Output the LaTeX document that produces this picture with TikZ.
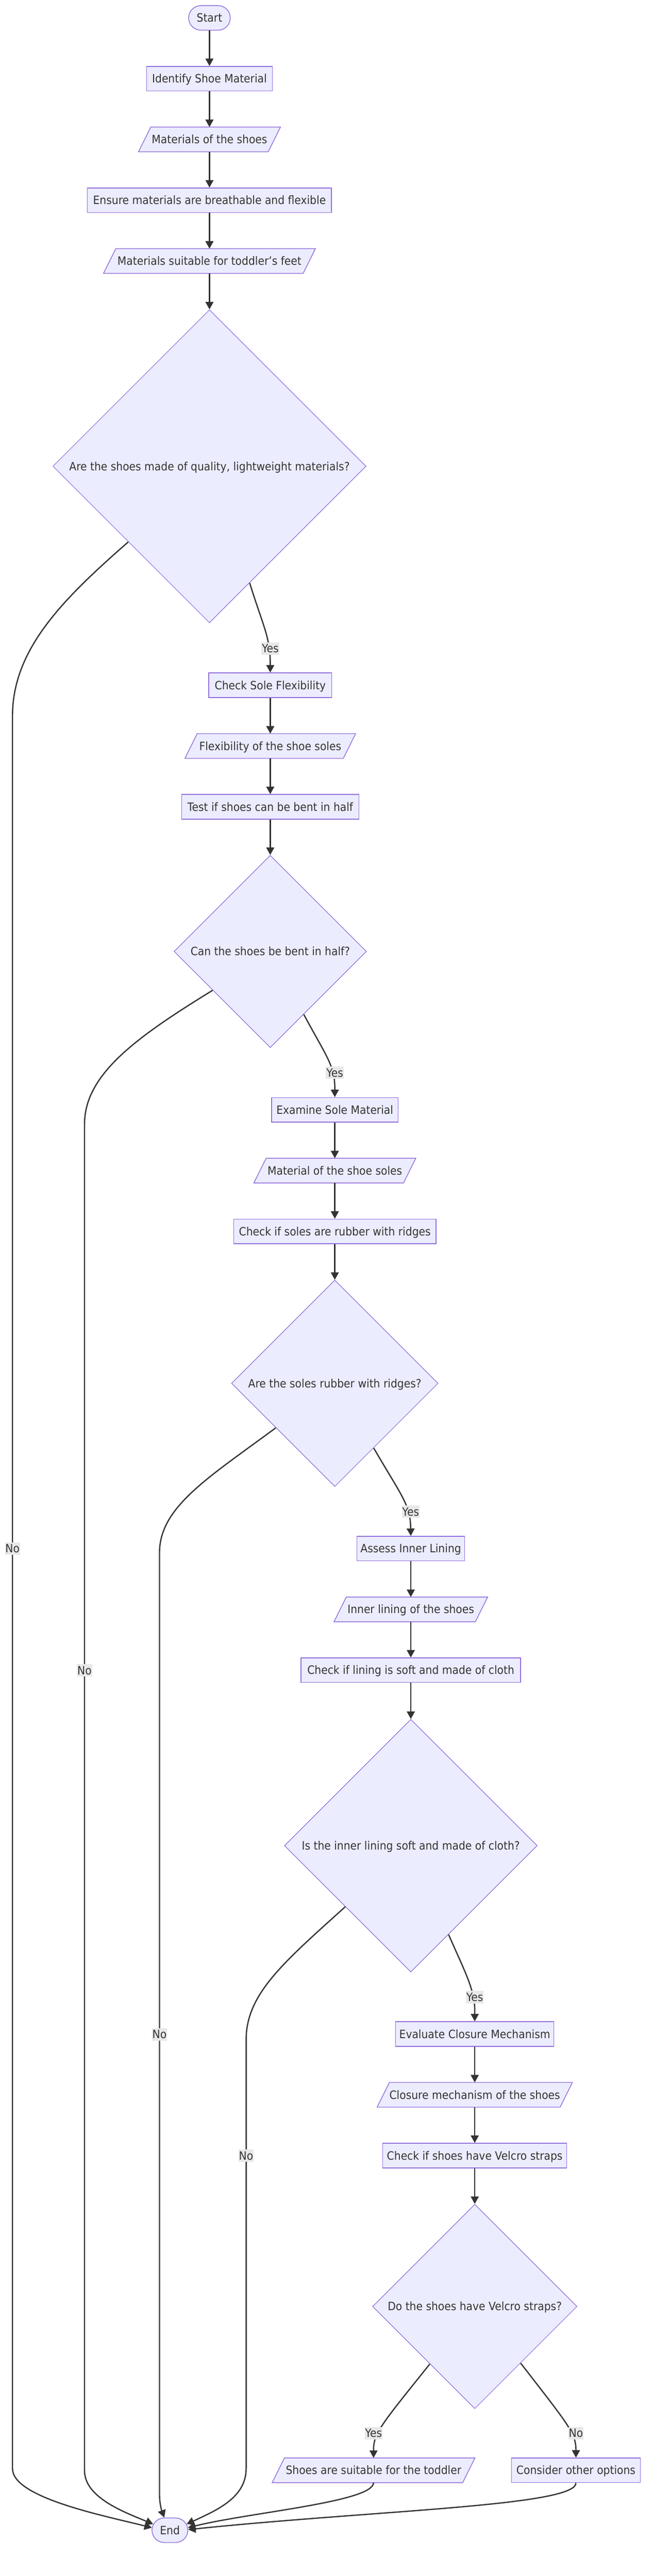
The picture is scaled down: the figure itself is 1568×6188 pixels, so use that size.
\documentclass[tikz,border=0pt]{standalone}
\usepackage{fontspec}
\setmainfont{DejaVu Sans}[FakeStretch=0.91]
\usetikzlibrary{arrows.meta,shapes.geometric,shapes.misc,backgrounds,calc}
\definecolor{nfill}{HTML}{ECECFF}
\definecolor{nstroke}{HTML}{9370DB}
\definecolor{lc}{HTML}{333333}
\definecolor{lblbg}{HTML}{E8E8E8}
\newcommand{\nfont}{\fontsize{27.6}{33}\selectfont}
\begin{document}
\begin{tikzpicture}[x=1pt,y=-1pt,
  font=\nfont,
  every node/.style={text=lc},
  every label/.style={text=lc, inner sep=0pt, text height=20pt, text depth=0pt},
  base/.style={minimum height=59pt, inner sep=0pt, text height=20pt, text depth=0pt},
  proc/.style={base, rectangle, draw=nstroke, fill=nfill, line width=1.8pt},
  term/.style={base, rounded rectangle, draw=nstroke, fill=nfill, line width=1.8pt},
  iobox/.style={base, rectangle, draw=none},
  dia/.style={diamond, draw=nstroke, fill=nfill, line width=1.5pt, inner sep=0pt},
  parashape/.style={draw=nstroke, fill=nfill, line width=1.8pt},
  conn/.style={draw=lc, line width=3pt, -{Triangle[length=18pt,width=19pt]}},
  lbl/.style={fill=lblbg, inner xsep=1pt, inner ysep=5pt, text height=20pt, text depth=0pt}
]
\useasboundingbox (0,0) rectangle (1568,6188);

% ---- nodes ----
\node[term, minimum width=100pt] (start) at (503,43) {\makebox[0pt]{Start}};
\node[proc, minimum width=302pt] (a1) at (503,189) {Identify Shoe Material};
\node[iobox, minimum width=311pt] (p1) at (503,335) {Materials of the shoes};
\node[proc, minimum width=586pt] (a2) at (503,481) {Ensure materials are breathable and flexible};
\node[iobox, minimum width=479pt] (p2) at (503,627) {Materials suitable for toddler's feet};
\node[dia, minimum width=752pt, minimum height=752pt,
      label=center:{Are the shoes made of quality, lightweight materials?}] (d1) at (503,1120) {};
\node[proc, minimum width=295pt] (b1) at (649,1646) {Check Sole Flexibility};
\node[iobox, minimum width=380pt] (p3) at (649,1792) {Flexibility of the shoe soles};
\node[proc, minimum width=426pt] (b2) at (649,1938) {Test if shoes can be bent in half};
\node[dia, minimum width=462pt, minimum height=462pt,
      label=center:{Can the shoes be bent in half?}] (d2) at (649,2285.5) {};
\node[proc, minimum width=304pt] (c1) at (804,2666) {Examine Sole Material};
\node[iobox, minimum width=359pt] (p4) at (804,2812) {Material of the shoe soles};
\node[proc, minimum width=486pt] (c2) at (804,2958) {Check if soles are rubber with ridges};
\node[dia, minimum width=496pt, minimum height=496pt,
      label=center:{Are the soles rubber with ridges?}] (d3) at (804,3323) {};
\node[proc, minimum width=259pt] (e1) at (986.5,3720) {Assess Inner Lining};
\node[iobox, minimum width=339pt] (p5) at (986.5,3866) {Inner lining of the shoes};
\node[proc, minimum width=527pt] (e2) at (986.5,4012) {Check if lining is soft and made of cloth};
\node[dia, minimum width=607pt, minimum height=607pt,
      label=center:{Is the inner lining soft and made of cloth?}] (d4) at (986.5,4433.5) {};
\node[proc, minimum width=380pt] (f1) at (1140,4886) {Evaluate Closure Mechanism};
\node[iobox, minimum width=439pt] (p6) at (1140,5032) {Closure mechanism of the shoes};
\node[proc, minimum width=442pt] (f2) at (1140,5178) {Check if shoes have Velcro straps};
\node[dia, minimum width=491pt, minimum height=491pt,
      label=center:{Do the shoes have Velcro straps?}] (d5) at (1140,5540.5) {};
\node[iobox, minimum width=457pt] (g1) at (897,5934) {Shoes are suitable for the toddler};
\node[proc, minimum width=310pt] (g2) at (1383,5934) {Consider other options};
\node[term, minimum width=86pt] (fin) at (408,6078) {\makebox[0pt]{End}};

% ---- parallelogram outlines ----
\begin{scope}[on background layer]
\foreach \n in {p1,p2,p3,p4,p5,p6,g1}{
  \draw[parashape] ($(\n.north west)+(14.75,0)$) -- ($(\n.north east)+(14.75,0)$)
     -- ($(\n.south east)+(-14.75,0)$) -- ($(\n.south west)+(-14.75,0)$) -- cycle;
}
\end{scope}

% ---- straight connectors ----
\draw[conn] (start) -- (a1);
\draw[conn] (a1) -- (p1);
\draw[conn] (p1) -- (a2);
\draw[conn] (a2) -- (p2);
\draw[conn] (p2) -- (d1);
\draw[conn] (b1) -- (p3);
\draw[conn] (p3) -- (b2);
\draw[conn] (b2) -- (d2);
\draw[conn] (c1) -- (p4);
\draw[conn] (p4) -- (c2);
\draw[conn] (c2) -- (d3);
\draw[conn] (e1) -- (p5);
\draw[conn] (p5) -- (e2);
\draw[conn] (e2) -- (d4);
\draw[conn] (f1) -- (p6);
\draw[conn] (p6) -- (f2);
\draw[conn] (f2) -- (d5);

% ---- Yes branches ----
\draw[conn] (d1.-71.4) .. controls (632,1505) and (649,1530) .. (649,1595) -- (b1.north);
\node[lbl] (y1) at (649,1558) {Yes};
\draw[conn] (d2.-62) .. controls (785,2540) and (804,2560) .. (804,2615) -- (c1.north);
\node[lbl] (y2) at (804,2577) {Yes};
\draw[conn] (d3.-59.2) .. controls (962,3590) and (986,3615) .. (986,3670) -- (e1.north);
\node[lbl] (y3) at (986,3631) {Yes};
\draw[conn] (d4.-67.35) .. controls (1118,4740) and (1140,4780) .. (1140,4830) -- (f1.north);
\node[lbl] (y4) at (1140,4797.6) {Yes};
\draw[conn] (d5.-128.35) .. controls (915,5825) and (897,5845) .. (897,5885) -- (g1.north);
\node[lbl] (y5) at (897,5845) {Yes};
\draw[conn] (d5.-51.65) .. controls (1365,5825) and (1383,5845) .. (1383,5885) -- (g2.north);
\node[lbl] (n5) at (1383,5845) {No};

% ---- No branches to End ----
\draw[conn] (d1.-137.3) .. controls (150,1440) and (30,1560) .. (30,1720) -- (30,3720) node[lbl] (n1) {No}
   -- (30,5930) .. controls (30,6000) and (250,6043) .. (fin.172);
\draw[conn] (d2.-146.36) .. controls (330,2490) and (203,2580) .. (203,2700) -- (203,4012.5) node[lbl] (n2) {No}
   -- (203,5935) .. controls (203,6000) and (300,6035) .. (fin.160);
\draw[conn] (d3.-143.26) .. controls (500,3550) and (383,3620) .. (383,3730) -- (383,4887) node[lbl] (n3) {No}
   -- (383,5990) .. controls (383,6020) and (390,6035) .. (fin.114);
\draw[conn] (d4.-137.25) .. controls (680,4715) and (591,4790) .. (591,4900) -- (591,5178) node[lbl] (n4) {No}
   -- (591,5930) .. controls (591,6000) and (520,6030) .. (fin.20);
\draw[conn] (g1.south) .. controls (897,6010) and (600,6035) .. (fin.8);
\draw[conn] (g2.south) .. controls (1383,6020) and (900,6030) .. (fin.2);
\end{tikzpicture}
\end{document}
